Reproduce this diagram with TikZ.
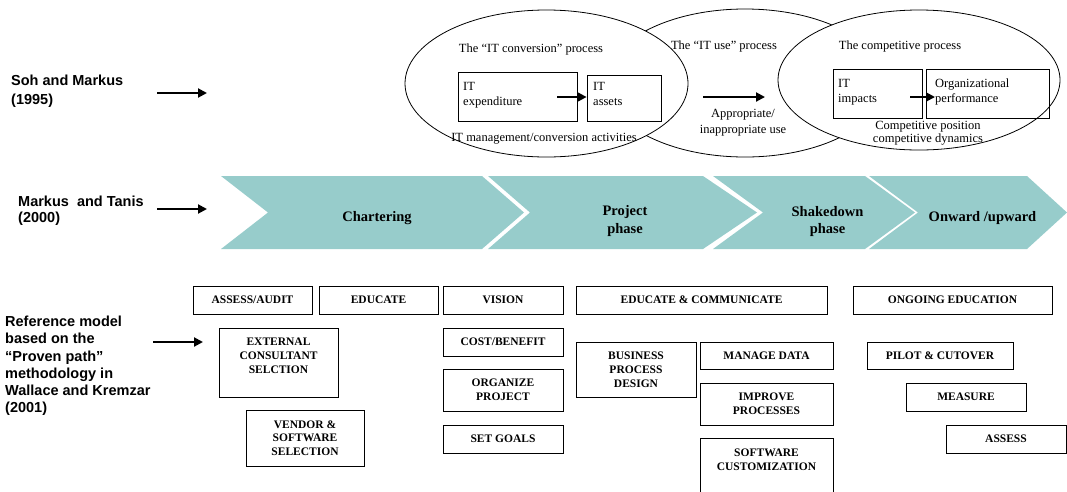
\documentclass[tikz,border=0pt]{standalone}
\usepackage{fontspec}
\setmainfont{Liberation Serif}
\newfontfamily\arialfont{Liberation Sans}
\usetikzlibrary{arrows.meta,shapes.geometric}
\definecolor{chevcol}{RGB}{151,204,203}
\begin{document}
\begin{tikzpicture}[x=1pt,y=-1pt,
  lblA/.style={font=\arialfont\bfseries\fontsize{14.5}{18.5}\selectfont, align=left, inner sep=0, anchor=north west},
  lblB/.style={font=\arialfont\bfseries\fontsize{14.5}{16.7}\selectfont, align=left, inner sep=0, anchor=north west},
  lblC/.style={font=\arialfont\bfseries\fontsize{14.5}{17.2}\selectfont, align=left, inner sep=0, anchor=north west},
  arr/.style={line width=2pt, -{Triangle[length=9pt,width=9pt]}},
  ell/.style={ellipse, draw, line width=0.8pt, fill=white, inner sep=0},
  et/.style={font=\fontsize{12.5}{15}\selectfont, inner sep=0},
  ibox/.style={draw, line width=0.8pt, inner sep=0},
  chev/.style={fill=chevcol},
  cl/.style={font=\bfseries\fontsize{14.5}{18}\selectfont, inner sep=0},
  bt/.style={font=\bfseries\fontsize{11.5}{13.7}\selectfont, align=center, inner sep=0},
  bx/.style={draw, line width=0.8pt, bt}]
\useasboundingbox (0,0) rectangle (1067,491);
\clip (0,0) rectangle (1067,491);

% left labels
\node[lblA] (soh) at (11,75) {Soh and Markus\\(1995)};
\node[lblB] (mt) at (18,195.5) {Markus\ \ and Tanis\\(2000)};
\node[lblC] (ref) at (5,316) {Reference model\\based on the\\“Proven path”\\methodology in\\Wallace and Kremzar\\(2001)};
\coordinate (a1s) at (157,93); \coordinate (a1e) at (207,93);
\coordinate (a2s) at (157,209); \coordinate (a2e) at (207,209);
\coordinate (a3s) at (153,342); \coordinate (a3e) at (203,342);
\draw[arr] (a1s) -- (a1e);
\draw[arr] (a2s) -- (a2e);
\draw[arr] (a3s) -- (a3e);

% ellipses
\node[ell, minimum width=280pt, minimum height=148pt] (e2) at (745,83) {};
\node[ell, minimum width=283pt, minimum height=147pt] (e1) at (546.5,83.5) {};
\node[ell, minimum width=282pt, minimum height=140pt] (e3) at (919,80) {};

\node[et, anchor=base] (t1) at (531,52) {The “IT conversion” process};
\node[ibox, minimum width=119pt, minimum height=49pt] (ite) at (517.5,96.5) {};
\node[ibox, minimum width=74pt, minimum height=46pt] (ita) at (624,98) {};
\node[et, anchor=north west, align=left] (tite) at (463,81.7) {IT\\expenditure};
\node[et, anchor=north west, align=left] (tita) at (593,81.7) {IT\\assets};
\node[et, anchor=base] (t1b) at (544,141.5) {IT management/conversion activities};
\coordinate (x1s) at (557,97);
\draw[arr] (x1s) -- (ita.west |- x1s);

\node[et, anchor=base] (t2) at (724,49) {The “IT use” process};
\coordinate (x2s) at (703,97); \coordinate (x2e) at (765,97);
\draw[arr] (x2s) -- (x2e);
\node[et, anchor=north, align=center, font=\fontsize{12.5}{16}\selectfont] (t2b) at (743,109.5) {Appropriate/\\inappropriate use};

\node[et, anchor=base] (t3) at (900,49.5) {The competitive process};
\node[ibox, minimum width=89pt, minimum height=49pt] (iti) at (877.5,93.5) {};
\node[ibox, minimum width=123pt, minimum height=49pt] (orp) at (987.5,93.5) {};
\node[et, anchor=north west, align=left] (titi) at (838,78.7) {IT\\impacts};
\node[et, anchor=north west, align=left] (torp) at (935,78.5) {Organizational\\performance};
\coordinate (x3s) at (910,97); \coordinate (x3e) at (935,97);
\draw[arr] (x3s) -- (x3e);
\node[et, anchor=north, align=center, font=\fontsize{12.5}{13}\selectfont] (t3b) at (928,121.5) {Competitive position\\competitive dynamics};

% chevrons
\fill[chev] (221,176) -- (482,176) -- (524,212.5) -- (482,249) -- (221,249) -- (268,212.5) -- cycle;
\fill[chev] (488,176) -- (703,176) -- (757,212.5) -- (703,249) -- (488,249) -- (530,212.5) -- cycle;
\fill[chev] (713,176) -- (865,176) -- (915,212.5) -- (865,249) -- (713,249) -- (763,212.5) -- cycle;
\fill[chev] (869,176) -- (1027,176) -- (1067,212.5) -- (1027,249) -- (869,249) -- (918,212.5) -- cycle;
\node[cl, anchor=base] (ch1) at (377,221) {Chartering};
\node[cl, anchor=north, align=center] (ch2) at (625,205) {Project\\phase};
\node[cl, anchor=north, align=center, font=\bfseries\fontsize{14.5}{17}\selectfont] (ch3) at (827.5,206) {Shakedown\\phase};
\node[cl, anchor=base] (ch4) at (982.5,221.5) {Onward /upward};

% bottom boxes
\node[bx, minimum width=119pt, minimum height=28pt] (aa) at (252.5,300) {ASSESS/AUDIT};
\node[bx, minimum width=119pt, minimum height=28pt] (ed) at (378.5,300) {EDUCATE};
\node[bx, minimum width=119pt, minimum height=69pt] (ecs) at (278.5,362.5) {};
\node[bt, anchor=north] (tecs) at (278.5,338) {EXTERNAL\\CONSULTANT\\SELCTION};
\node[bx, minimum width=118pt, minimum height=56pt] (vss) at (305,438) {VENDOR \&\\SOFTWARE\\SELECTION};
\node[bx, minimum width=120pt, minimum height=28pt] (vis) at (503,300) {VISION};
\node[bx, minimum width=120pt, minimum height=28pt] (cb) at (503,342) {COST/BENEFIT};
\node[bx, minimum width=120pt, minimum height=42pt] (op) at (503,390) {ORGANIZE\\PROJECT};
\node[bx, minimum width=120pt, minimum height=28pt] (sg) at (503,439) {SET GOALS};
\node[bx, minimum width=251pt, minimum height=28pt] (ec) at (701.5,300) {EDUCATE \& COMMUNICATE};
\node[bx, minimum width=120pt, minimum height=55pt] (bpd) at (636,369.5) {};
\node[bt, anchor=north] (tbpd) at (636,352) {BUSINESS\\PROCESS\\DESIGN};
\node[bx, minimum width=133pt, minimum height=27pt] (md) at (766.5,355.5) {MANAGE DATA};
\node[bx, minimum width=133pt, minimum height=42pt] (ip) at (766.5,404) {IMPROVE\\PROCESSES};
\node[bx, minimum width=133pt, minimum height=62pt] (sc) at (766.5,469) {};
\node[bt, anchor=north] (tsc) at (766.5,449) {SOFTWARE\\CUSTOMIZATION};
\node[bx, minimum width=199pt, minimum height=28pt] (on) at (952.5,300) {ONGOING EDUCATION};
\node[bx, minimum width=146pt, minimum height=27pt] (pc) at (940,355.5) {PILOT \& CUTOVER};
\node[bx, minimum width=120pt, minimum height=28pt] (me) at (966,397) {MEASURE};
\node[bx, minimum width=120pt, minimum height=28pt] (as) at (1006,439) {ASSESS};
\end{tikzpicture}
\end{document}
